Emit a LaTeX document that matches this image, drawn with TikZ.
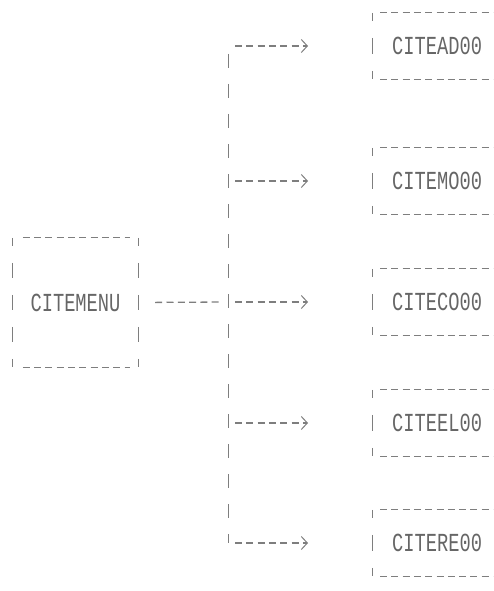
\documentclass[tikz,border=0pt]{standalone}
\usepackage{fontspec}
\newfontfamily\dotfont[FakeStretch=0.72]{Liberation Mono}
\usetikzlibrary{arrows.meta}
\definecolor{ink}{HTML}{666666}
\definecolor{rulec}{HTML}{7E7E7E}
\begin{document}
\begin{tikzpicture}[x=1pt,y=-1pt,
  lbl/.style={font=\dotfont\fontsize{26}{26}\selectfont, text=ink},
  menubox/.style={lbl, inner sep=0pt, minimum width=125pt, minimum height=129pt},
  subbox/.style={lbl, anchor=west, inner xsep=20pt, inner ysep=0pt, minimum height=66pt},
  hline/.style={draw=rulec, line width=1.3pt, dash pattern=on 7pt off 4.3pt},
  menuside/.style={draw=rulec, line width=0.9pt, dash pattern=on 15pt off 17pt, dash phase=7pt},
  subside/.style={draw=rulec, line width=0.9pt, dash pattern=on 16pt off 17pt, dash phase=8pt},
  spine/.style={draw=rulec, line width=0.9pt, dash pattern=on 14pt off 16pt, dash phase=22pt},
  tip/.style={-{Straight Barb[length=6pt,width=13pt,line width=1pt]}},
]
\useasboundingbox (0,0) rectangle (493,591);
\clip (0,0) rectangle (493,591);

% main box
\node[menubox] (menu) at (75.5,302.5) {CITEMENU};
\draw[hline] ([xshift=10pt]menu.north west) -- ([xshift=-8pt]menu.north east);
\draw[hline] ([xshift=10pt]menu.south west) -- ([xshift=-8pt]menu.south east);
\draw[menuside] (menu.north west) -- (menu.south west);
\draw[menuside] (menu.north east) -- (menu.south east);

% sub boxes
\foreach \nm/\txt/\yy in {ad/CITEAD00/46, mo/CITEMO00/181, co/CITECO00/302, el/CITEEL00/423, re/CITERE00/543}{
  \node[subbox] (\nm) at (372,\yy) {\txt};
  \draw[hline] ([xshift=8pt]\nm.north west) -- ++(140,0);
  \draw[hline] ([xshift=8pt]\nm.south west) -- ++(140,0);
  \draw[subside] (\nm.north west) -- (\nm.south west);
}

% spine and connectors
\coordinate (s1) at (228,46);
\coordinate (s2) at (228,181);
\coordinate (s3) at (228,302);
\coordinate (s4) at (228,423);
\coordinate (s5) at (228,543);
\draw[spine] (s1) -- (s5);
\draw[hline, shorten <=17pt, shorten >=6pt] (menu.east) -- (s3);
\foreach \s/\nm in {s1/ad, s2/mo, s3/co, s4/el, s5/re}{
  \draw[hline, tip, shorten <=7pt, shorten >=64pt] (\s) -- (\nm.west);
}
\end{tikzpicture}
\end{document}
